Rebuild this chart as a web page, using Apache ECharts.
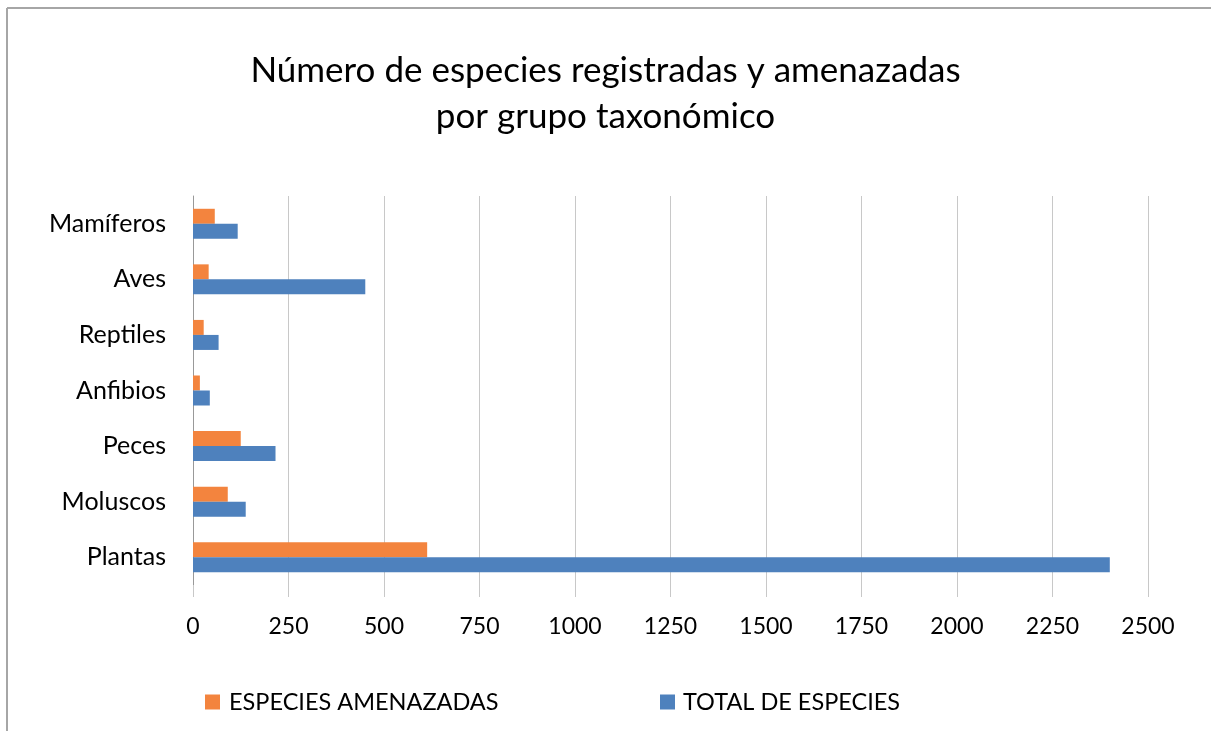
<!DOCTYPE html>
<html>
<head>
<meta charset="utf-8">
<script src="https://cdn.jsdelivr.net/npm/echarts@6/dist/echarts.min.js"></script>
<style>html,body{margin:0;padding:0;background:#fff;}#c{width:1211px;height:731px;}</style>
</head>
<body>
<div id="c"></div>
<script>
const categories = ['Plantas', 'Moluscos', 'Peces', 'Anfibios', 'Reptiles', 'Aves', 'Mamíferos'];
const amenazadas = [613, 91, 125, 18, 28, 41, 57];
const total = [2400, 138, 216, 44, 67, 451, 117];
const seriesNames = ['ESPECIES AMENAZADAS', 'TOTAL DE ESPECIES'];
const titleText = 'Número de especies registradas y amenazadas\npor grupo taxonómico';

const FONT = 'Lato';
const chart = echarts.init(document.getElementById('c'));
chart.setOption({
  backgroundColor: '#fff',
  animation: false,
  title: {
    text: titleText,
    left: 'center',
    top: 43,
    textStyle: { fontFamily: FONT, fontSize: 35, fontWeight: 'normal', color: '#000', lineHeight: 46 }
  },
  legend: [
    { data: [seriesNames[0]], left: 200, top: 685, itemWidth: 15, itemHeight: 15, icon: 'rect',
      textStyle: { fontFamily: FONT, fontSize: 23.5, color: '#000', padding: [0, 0, 0, 4] } },
    { data: [seriesNames[1]], left: 655, top: 685, itemWidth: 15, itemHeight: 15, icon: 'rect',
      textStyle: { fontFamily: FONT, fontSize: 23.5, color: '#000', padding: [0, 0, 0, 3] } }
  ],
  grid: { left: 193, right: 63, top: 196, height: 389, containLabel: false },
  xAxis: {
    type: 'value', min: 0, max: 2500, interval: 250,
    axisLine: { show: false },
    axisTick: { show: true, length: 12, lineStyle: { color: '#c8c8c8' } },
    splitLine: { show: true, lineStyle: { color: '#c8c8c8', width: 1 } },
    axisLabel: { fontFamily: FONT, fontSize: 23, color: '#000', margin: 30,
      formatter: function (v) { return String(v); } }
  },
  yAxis: {
    type: 'category', data: categories,
    axisLine: { show: true, lineStyle: { color: '#999', width: 1 } },
    axisTick: { show: false },
    axisLabel: { fontFamily: FONT, fontSize: 25, color: '#000', margin: 27, padding: [4, 0, 0, 0] }
  },
  series: [
    { name: seriesNames[0], type: 'bar', data: amenazadas, barGap: '0%', barCategoryGap: '46%',
      itemStyle: { color: '#F3843E' } },
    { name: seriesNames[1], type: 'bar', data: total, barGap: '0%', barCategoryGap: '46%',
      itemStyle: { color: '#4E81BD' } }
  ],
  graphic: [
    { type: 'line', shape: { x1: 7, y1: 8, x2: 1211, y2: 8 }, style: { stroke: '#a6a6a6', lineWidth: 2 } },
    { type: 'line', shape: { x1: 7, y1: 8, x2: 7, y2: 731 }, style: { stroke: '#a6a6a6', lineWidth: 2 } }
  ]
});
</script>
</body>
</html>
